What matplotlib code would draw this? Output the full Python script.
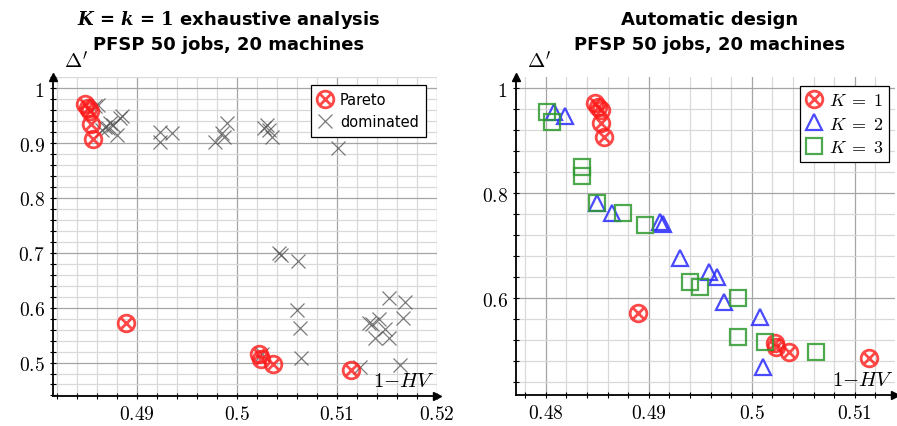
import numpy as np
import matplotlib
matplotlib.use("Agg")
import matplotlib.pyplot as plt
from matplotlib.path import Path
from matplotlib.lines import Line2D
from matplotlib.ticker import FixedLocator, MultipleLocator, FixedFormatter

plt.rcParams['mathtext.fontset'] = 'cm'

# Pareto front (K = k = 1), same in both panels
pareto_hv = [0.48480, 0.48510, 0.48535, 0.48538, 0.48560, 0.48890,
             0.50222, 0.50238, 0.50360, 0.51140]
pareto_delta = [0.9715, 0.9640, 0.9590, 0.9340, 0.9070, 0.5720,
                0.5155, 0.5065, 0.4970, 0.4868]

# dominated configurations (left panel)
dom_hv = [0.48583, 0.48613, 0.48650, 0.48683, 0.48713, 0.48733, 0.48763,
          0.48800, 0.48833, 0.48853,
          0.49233, 0.49233, 0.49350, 0.49783, 0.49850, 0.49866, 0.49900,
          0.50266, 0.50300, 0.50316, 0.50350, 0.51013,
          0.50416, 0.50438, 0.50606, 0.50600, 0.50626, 0.50640,
          0.51316, 0.51350, 0.51416, 0.51483, 0.51383, 0.51516, 0.51516,
          0.51683, 0.51656, 0.51233, 0.51626, 0.50250]
dom_delta = [0.9678, 0.9696, 0.9242, 0.9296, 0.9278, 0.9369, 0.9333,
             0.9151, 0.9460, 0.9496,
             0.9211, 0.9024, 0.9182, 0.9029, 0.9182, 0.9120, 0.9364,
             0.9273, 0.9333, 0.9242, 0.9120, 0.8909,
             0.7000, 0.6969, 0.6847, 0.5956, 0.5624, 0.5078,
             0.5727, 0.5696, 0.5787, 0.5618, 0.5455, 0.5455, 0.6169,
             0.6109, 0.5805, 0.4927, 0.4951, 0.5150]

# automatic design, K = 2
k2_hv = [0.48080, 0.48187, 0.48494, 0.48645, 0.49106, 0.49136, 0.49305,
         0.49584, 0.49661, 0.49729, 0.50084, 0.50113]
k2_delta = [0.9554, 0.9467, 0.7815, 0.7625, 0.7453, 0.7415, 0.6768,
            0.6507, 0.6411, 0.5935, 0.5638, 0.4686]

# automatic design, K = 3
k3_hv = [0.48015, 0.48058, 0.48348, 0.48348, 0.48494, 0.48751, 0.48961,
         0.49404, 0.49494, 0.49864, 0.49864, 0.50123, 0.50623]
k3_delta = [0.9543, 0.9352, 0.8495, 0.8324, 0.7815, 0.7625, 0.7402,
            0.6305, 0.6210, 0.6000, 0.5257, 0.5173, 0.4983]

left_xticks = [0.49, 0.50, 0.51, 0.52]
left_xlabels = ['0.49', '0.5', '0.51', '0.52']
left_yticks = [0.5, 0.6, 0.7, 0.8, 0.9, 1.0]
left_ylabels = ['0.5', '0.6', '0.7', '0.8', '0.9', '1']
right_xticks = [0.48, 0.49, 0.50, 0.51]
right_xlabels = ['0.48', '0.49', '0.5', '0.51']
right_yticks = [0.6, 0.8, 1.0]
right_ylabels = ['0.6', '0.8', '1']

# circle with a cross inside
d = np.sqrt(0.5)
otimes = Path.make_compound_path(
    Path.unit_circle(),
    Path([(-d, -d), (d, d)], [Path.MOVETO, Path.LINETO]),
    Path([(-d, d), (d, -d)], [Path.MOVETO, Path.LINETO]))

red = '#ff1a1a'
blue = '#2a2aff'
green = '#2f9a2f'

fig = plt.figure(figsize=(8.97, 4.27), dpi=100)
ax1 = fig.add_axes([53 / 897, 30 / 427, 384 / 897, 319 / 427])
ax2 = fig.add_axes([516 / 897, 31 / 427, 379 / 897, 318 / 427])


def style_axis(ax, xlim, ylim, xt, xl, yt, yl, xminor, yminor):
    ax.set_xlim(*xlim)
    ax.set_ylim(*ylim)
    ax.xaxis.set_major_locator(FixedLocator(xt))
    ax.xaxis.set_major_formatter(FixedFormatter(['$%s$' % s for s in xl]))
    ax.yaxis.set_major_locator(FixedLocator(yt))
    ax.yaxis.set_major_formatter(FixedFormatter(['$%s$' % s for s in yl]))
    ax.xaxis.set_minor_locator(MultipleLocator(xminor))
    ax.yaxis.set_minor_locator(MultipleLocator(yminor))
    ax.grid(which='major', color='#a5a5a5', lw=0.9)
    ax.grid(which='minor', color='#d9d9d9', lw=0.9)
    ax.set_axisbelow(True)
    for s in ['top', 'right']:
        ax.spines[s].set_visible(False)
    for s in ['left', 'bottom']:
        ax.spines[s].set_linewidth(1.3)
    ax.tick_params(which='both', direction='inout', width=0.8, labelsize=14)
    ax.tick_params(which='major', length=5)
    ax.tick_params(which='minor', length=4)
    ax.plot(1, 0, '>k', ms=6, transform=ax.transAxes, clip_on=False)
    ax.plot(0, 1, '^k', ms=6, transform=ax.transAxes, clip_on=False)
    ax.text(0.06, 1.05, r"$\Delta'$", transform=ax.transAxes,
            ha='center', va='center', fontsize=15)
    ax.text(0.915, 0.05, r"$1{-}HV$", transform=ax.transAxes,
            ha='center', va='center', fontsize=15)


style_axis(ax1, (0.4816, 0.5200), (0.439, 1.0206), left_xticks, left_xlabels,
           left_yticks, left_ylabels, 0.002, 0.02)
style_axis(ax2, (0.4771, 0.5139), (0.4158, 1.0215), right_xticks, right_xlabels,
           right_yticks, right_ylabels, 0.002, 0.04)

# left panel
ax1.plot(dom_hv, dom_delta, ls='none', marker='x', ms=10, mew=0.9,
         color='#505050', alpha=0.75, label='dominated')
ax1.plot(pareto_hv, pareto_delta, ls='none', marker=otimes, ms=12, mew=2,
         mfc='none', mec=red, alpha=0.8, label='Pareto')

h1 = [Line2D([], [], ls='none', marker=otimes, ms=12, mew=2, mfc='none', mec=red, alpha=0.8),
      Line2D([], [], ls='none', marker='x', ms=10, mew=0.9, color='#505050', alpha=0.75)]
leg1 = ax1.legend(h1, ['Pareto', 'dominated'], loc='upper right',
                  bbox_to_anchor=(0.972, 0.976), fancybox=False, edgecolor='black',
                  framealpha=1, fontsize=10.5, handlelength=1.0, handletextpad=0.5,
                  borderaxespad=0, borderpad=0.5, labelspacing=0.5)
leg1.get_frame().set_linewidth(0.9)

# right panel
ax2.plot(pareto_hv, pareto_delta, ls='none', marker=otimes, ms=12, mew=2,
         mfc='none', mec=red, alpha=0.8)
ax2.plot(k2_hv, k2_delta, ls='none', marker='^', ms=12, mew=1.6,
         mfc='none', mec=blue, alpha=0.85)
ax2.plot(k3_hv, k3_delta, ls='none', marker='s', ms=12, mew=1.6,
         mfc='none', mec=green, alpha=0.85)

h2 = [Line2D([], [], ls='none', marker=otimes, ms=12, mew=2, mfc='none', mec=red, alpha=0.8),
      Line2D([], [], ls='none', marker='^', ms=12, mew=1.6, mfc='none', mec=blue, alpha=0.85),
      Line2D([], [], ls='none', marker='s', ms=12, mew=1.6, mfc='none', mec=green, alpha=0.85)]
leg2 = ax2.legend(h2, [r'$K\;=\;1$', r'$K\;=\;2$', r'$K\;=\;3$'], loc='upper right',
                  bbox_to_anchor=(0.984, 0.972), fancybox=False, edgecolor='black',
                  framealpha=1, fontsize=13, handlelength=1.0, handletextpad=0.3,
                  borderaxespad=0, borderpad=0.3, labelspacing=0.3)
leg2.get_frame().set_linewidth(0.9)

# titles
fig.text(229 / 897, 1 - 20 / 427,
         r"$\mathbfit{K}\,\mathbf{=}\,\mathbfit{k}\,\mathbf{=}\,\mathbf{1}$ exhaustive analysis",
         ha='center', va='center', fontsize=13, fontweight='bold',
         math_fontfamily='dejavuserif')
fig.text(229 / 897, 1 - 45 / 427, "PFSP 50 jobs, 20 machines",
         ha='center', va='center', fontsize=13, fontweight='bold')
fig.text(710 / 897, 1 - 20 / 427, "Automatic design",
         ha='center', va='center', fontsize=13, fontweight='bold')
fig.text(710 / 897, 1 - 45 / 427, "PFSP 50 jobs, 20 machines",
         ha='center', va='center', fontsize=13, fontweight='bold')

fig.savefig('out.png', dpi=100)
